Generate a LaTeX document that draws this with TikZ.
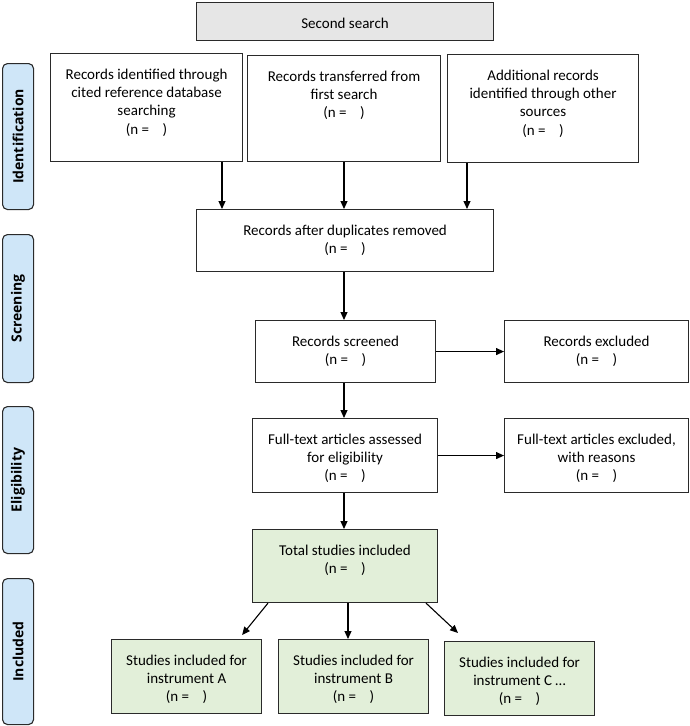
\documentclass[tikz,border=0pt]{standalone}
\usepackage{fontspec}
\setmainfont{Carlito}
\newfontfamily\labfont{Open Sans}
\usetikzlibrary{arrows.meta,calc}
\definecolor{grayfill}{HTML}{E6E6E6}
\definecolor{greenfill}{HTML}{E2EFD9}
\definecolor{bluefill}{HTML}{CFE6F8}
\definecolor{edge}{HTML}{2A2A2A}
\newcommand{\bxt}[3]{\parbox[c][#2][t]{#1}{\centering\rule{0pt}{25.5pt}#3}}
\newcommand{\nval}{(n =\hspace{0.9em})}
\tikzset{
  box/.style={draw=edge, line width=1.1pt, inner sep=0pt, anchor=north west,
    font=\fontsize{15}{18.4}\selectfont},
  gbox/.style={box, fill=greenfill},
  lab/.style={draw=edge, line width=1.1pt, fill=bluefill, rounded corners=5pt,
    inner sep=0pt, anchor=north west, font=\labfont\bfseries\fontsize{14}{16}\selectfont},
  arr/.style={draw=black, line width=1.1pt, -{Triangle[length=8pt,width=7pt]}}
}
\begin{document}
\begin{tikzpicture}[x=1pt,y=-1pt]
\useasboundingbox (0,0) rectangle (689,726);
% phase labels
\node[lab, minimum width=31pt, minimum height=146pt] (lid) at (2,63) {\rotatebox{90}{Identification}};
\node[lab, minimum width=31pt, minimum height=148pt] (lsc) at (2,234) {\rotatebox{90}{Screening}};
\node[lab, minimum width=31pt, minimum height=147pt] (lel) at (2,406) {\rotatebox{90}{Eligibility}};
\node[lab, minimum width=31pt, minimum height=146pt] (lin) at (2,578) {\rotatebox{90}{Included}};
% boxes
\node[box, fill=grayfill] (srch) at (196,2) {\bxt{297pt}{38pt}{Second search}};
\node[box] (b1) at (50,53) {\bxt{192pt}{108pt}{Records identified through\\cited reference database\\searching\\\nval}};
\node[box] (b2) at (247,55) {\bxt{193pt}{106pt}{Records transferred from\\first search\\\nval}};
\node[box] (b3) at (447,54) {\bxt{191pt}{108pt}{Additional records\\identified through other\\sources\\\nval}};
\node[box] (dup) at (196,209) {\bxt{297pt}{62pt}{Records after duplicates removed\\\nval}};
\node[box] (scr) at (255,320) {\bxt{180pt}{62pt}{Records screened\\\nval}};
\node[box] (exc) at (504,320) {\bxt{184pt}{62pt}{Records excluded\\\nval}};
\node[box] (ft) at (252,418) {\bxt{185pt}{74pt}{Full-text articles assessed\\for eligibility\\\nval}};
\node[box] (fte) at (504,418) {\bxt{184pt}{74pt}{Full-text articles excluded,\\with reasons\\\nval}};
\node[gbox] (tot) at (252,529) {\bxt{185pt}{73pt}{Total studies included\\\nval}};
\node[gbox] (sA) at (111,639) {\bxt{150pt}{74pt}{Studies included for\\instrument A\\\nval}};
\node[gbox] (sB) at (278,639) {\bxt{150pt}{74pt}{Studies included for\\instrument B\\\nval}};
\node[gbox] (sC) at (444,641) {\bxt{150pt}{74pt}{Studies included for\\instrument C \dots\\\nval}};
% connectors
\draw[arr] (b1.south -| 222,0) -- (dup.north -| 222,0);
\draw[arr] (b2.south -| 344,0) -- (dup.north -| 344,0);
\draw[arr] (b3.south -| 467,0) -- (dup.north -| 467,0);
\draw[arr] (dup.south -| 344,0) -- (scr.north -| 344,0);
\draw[arr] (scr.east) -- (exc.west |- scr.east);
\draw[arr] (scr.south -| 344,0) -- (ft.north -| 344,0);
\draw[arr] (ft.east) -- (fte.west |- ft.east);
\draw[arr] (ft.south -| 344,0) -- (tot.north -| 344,0);
\draw[arr] (tot.south -| 268,0) -- ($(sA.north east)+(-20,-4)$);
\draw[arr] (tot.south -| 348,0) -- (sB.north -| 348,0);
\draw[arr] (tot.south -| 426,0) -- ($(sC.north west)+(14,-8)$);
\end{tikzpicture}
\end{document}
